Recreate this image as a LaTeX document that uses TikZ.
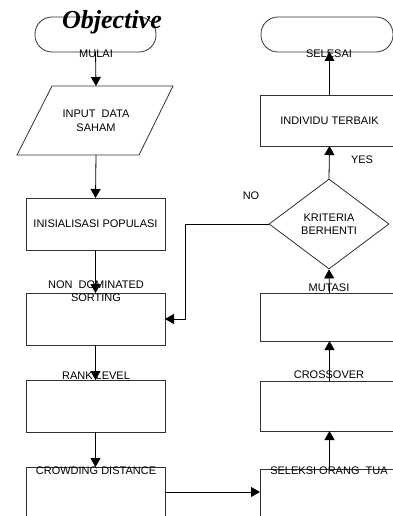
\documentclass[tikz,border=0pt]{standalone}
\usepackage{fontspec}
\setmainfont{Liberation Sans}
\newfontfamily\titlefont{Liberation Serif}
\usetikzlibrary{arrows.meta,shapes.geometric}
\begin{document}
\begin{tikzpicture}[x=1pt,y=-1pt,
  shapebox/.style={draw=black!80, line width=0.8pt, inner sep=0pt, outer sep=0pt, anchor=north west, font=\fontsize{11}{12.5}\selectfont, align=center},
  term/.style={shapebox, rounded corners=17pt},
  lbl/.style={inner sep=0pt, font=\fontsize{11}{13.5}\selectfont, align=center},
  flow/.style={draw=black, line width=0.8pt, -{Triangle[width=10pt,length=9pt]}}
]
\useasboundingbox (0,0) rectangle (393,516);
\clip (0,0) rectangle (393,516);

% left column
\node[term, minimum width=121pt, minimum height=35pt] (mulai) at (35,17) {};
\coordinate (pA) at (52,86);
\coordinate (pB) at (173,86);
\coordinate (pC) at (139,155);
\coordinate (pD) at (17,155);
\draw[draw=black!80, line width=0.8pt] (pA) -- (pB) -- (pC) -- (pD) -- cycle;
\coordinate (intop) at (96,86);
\coordinate (inbot) at (96,155);
\node[shapebox, minimum width=139pt, minimum height=52pt] (init) at (26,198) {INISIALISASI POPULASI};
\node[shapebox, minimum width=139pt, minimum height=52pt] (nds) at (26,293) {};
\node[shapebox, minimum width=139pt, minimum height=52pt] (rank) at (26,380) {};
\node[shapebox, minimum width=139pt, minimum height=50pt] (crowd) at (26,467) {};

% right column
\node[term, minimum width=132pt, minimum height=35pt] (selesai) at (261,17) {};
\node[shapebox, minimum width=139pt, minimum height=51pt] (indiv) at (260,95) {INDIVIDU TERBAIK};
\node[diamond, draw=black!80, line width=0.8pt, inner sep=0pt, minimum width=120pt, minimum height=90pt, font=\fontsize{11}{13.5}\selectfont, align=center] (diam) at (329,224) {KRITERIA\\BERHENTI};
\node[shapebox, minimum width=139pt, minimum height=48pt] (mut) at (260,293) {};
\node[shapebox, minimum width=139pt, minimum height=50pt] (cross) at (260,381) {};
\node[shapebox, minimum width=139pt, minimum height=60pt] (sel) at (260,469) {};

% title
\node[inner sep=0pt, anchor=base, font=\titlefont\bfseries\itshape\fontsize{26}{28}\selectfont] (title) at (112,29) {Objective};

% connectors
\draw[flow] (mulai.south) -- (intop);
\draw[flow] (inbot) -- (init.north);
\draw[flow] (init.south) -- (nds.north);
\draw[flow] (nds.south) -- (rank.north);
\draw[flow] (rank.south) -- (crowd.north);
\draw[flow] (crowd.east |- 0,492) -- (sel.west |- 0,492);
\draw[flow] (sel.north) -- (cross.south);
\draw[flow] (cross.north) -- (mut.south);
\draw[flow] (mut.north) -- (diam.south);
\draw[flow] (diam.north) -- (indiv.south);
\draw[flow] (indiv.north) -- (indiv.north |- selesai.south);
\coordinate (noc) at (185,224);
\draw[flow] (diam.west) -- (noc) |- (nds.east);

% labels
\node[lbl] (lmulai) at (96,54) {MULAI};
\node[lbl] (linput) at (96,121) {INPUT\ \ DATA\\SAHAM};
\node[lbl] (lnds) at (96,291) {NON\ \ DOMINATED\\SORTING};
\node[lbl] (lrank) at (96,376) {RANK LEVEL};
\node[lbl] (lcrowd) at (96,471) {CROWDING DISTANCE};
\node[lbl] (lselesai) at (329,54) {SELESAI};
\node[lbl] (lyes) at (362,160) {YES};
\node[lbl] (lno) at (251,196) {NO};
\node[lbl] (lmut) at (329,288) {MUTASI};
\node[lbl] (lcross) at (329,375) {CROSSOVER};
\node[lbl] (lsel) at (329,471) {SELEKSI ORANG\ \ TUA};
\end{tikzpicture}
\end{document}
